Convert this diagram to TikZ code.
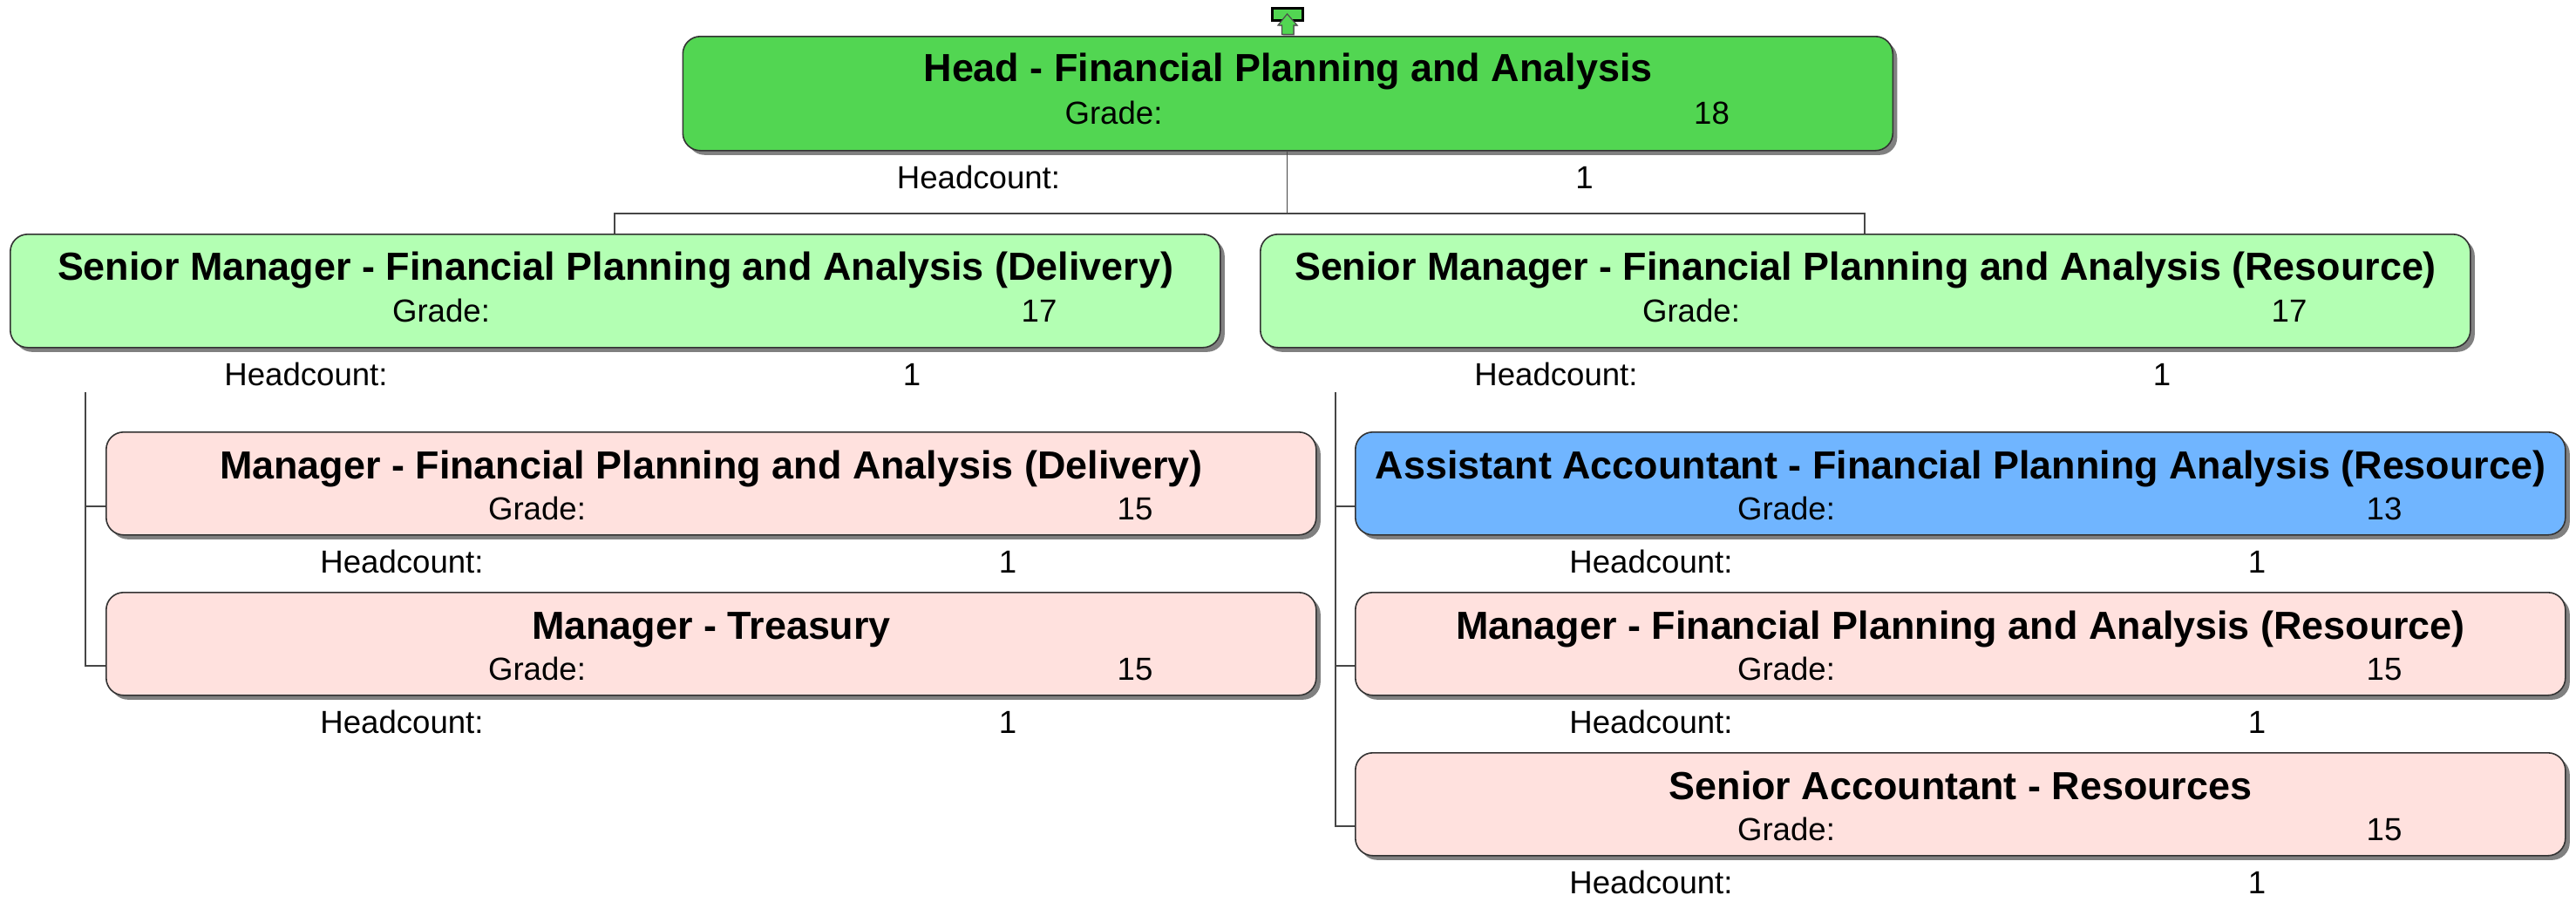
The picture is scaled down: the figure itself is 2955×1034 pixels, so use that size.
\documentclass[tikz,border=0pt]{standalone}
\usepackage{fontspec}
\setmainfont{Liberation Sans}
\usetikzlibrary{shadows}
\definecolor{headgreen}{RGB}{82,214,82}
\definecolor{seniorgreen}{RGB}{179,255,179}
\definecolor{managerpink}{RGB}{255,225,222}
\definecolor{assistblue}{RGB}{112,181,255}
\definecolor{linegray}{RGB}{70,70,70}
\tikzset{
  x=0.5pt,y=-0.5pt,
  orgbox/.style={draw=black!80,line width=0.8pt,rounded corners=10pt,anchor=north west,inner sep=0pt,
    general shadow={fill=black!50,shadow xshift=2.5pt,shadow yshift=-2.5pt}},
  titletext/.style={anchor=base,inner sep=0pt,font=\fontsize{22.45}{26}\selectfont\bfseries},
  bodytext/.style={anchor=base,inner sep=0pt,font=\fontsize{18.3}{22}\selectfont},
  connector/.style={draw=linegray,line width=0.8pt},
}
% name, left, top, height, fill, title, grade, headcount, title baseline offset
\newcommand{\orgunit}[9]{%
  \node[orgbox,fill=#5,minimum width=694pt,minimum height=#4*0.5pt] (#1) at (#2,#3) {};
  \node[titletext] (#1title) at ({#2+695},{#3+#9}) {#6};
  \node[bodytext] (#1gradelabel) at ({#2+495},{#3+101}) {Grade:};
  \node[bodytext] (#1gradevalue) at ({#2+1181},{#3+101}) {#7};
  \node[bodytext] (#1countlabel) at ({#2+340},{#3+#4+44.5}) {Headcount:};
  \node[bodytext] (#1countvalue) at ({#2+1035},{#3+#4+44.5}) {#8};
}
\begin{document}
\begin{tikzpicture}
\useasboundingbox (0,0) rectangle (2955,1034);
% units
\orgunit{head}{782.5}{41}{131}{headgreen}{Head - Financial Planning and Analysis}{18}{1}{52}
\orgunit{seniorD}{11}{268}{130}{seniorgreen}{Senior Manager - Financial Planning and Analysis (Delivery)}{17}{1}{53}
\orgunit{seniorR}{1445}{268}{130}{seniorgreen}{Senior Manager - Financial Planning and Analysis (Resource)}{17}{1}{53}
\orgunit{mgrD}{121}{495}{118}{managerpink}{Manager - Financial Planning and Analysis (Delivery)}{15}{1}{54}
\orgunit{treasury}{121}{679}{118}{managerpink}{Manager - Treasury}{15}{1}{54}
\orgunit{assist}{1554}{495}{118}{assistblue}{Assistant Accountant - Financial Planning Analysis (Resource)}{13}{1}{54}
\orgunit{mgrR}{1554}{679}{118}{managerpink}{Manager - Financial Planning and Analysis (Resource)}{15}{1}{54}
\orgunit{accountant}{1554}{863}{118}{managerpink}{Senior Accountant - Resources}{15}{1}{54}
% connectors
\coordinate (bus) at (1476.5,245);
\coordinate (busL) at (705,245);
\coordinate (busR) at (2139,245);
\coordinate (stemL) at (98,450);
\coordinate (stemR) at (1532,450);
\coordinate (jD) at (98,581);
\coordinate (jT) at (98,764);
\coordinate (jA) at (1532,581);
\coordinate (jM) at (1532,764);
\coordinate (jS) at (1532,948);
\draw[connector] (head.south -| bus) -- (bus);
\draw[connector] (seniorD.north -| busL) -- (busL) -- (busR) -- (seniorR.north -| busR);
\draw[connector] (stemL) -- (jT) -- (treasury.west |- jT);
\draw[connector] (jD) -- (mgrD.west |- jD);
\draw[connector] (stemR) -- (jS) -- (accountant.west |- jS);
\draw[connector] (jA) -- (assist.west |- jA);
\draw[connector] (jM) -- (mgrR.west |- jM);
% collapse icon
\node[draw=black,line width=1.5pt,fill=headgreen,minimum width=17.5pt,minimum height=7pt,inner sep=0pt,anchor=north west] (iconbar) at (1458,8) {};
\coordinate (icontip) at (1476.5,16);
\draw[draw=black!70,line width=0.6pt,fill=headgreen,
  general shadow={fill=black!35,shadow xshift=0.5pt,shadow yshift=-0.5pt}]
  (icontip) -- (1488,29) -- (1484,29) -- (1484,39.5) -- (1470.5,39.5) -- (1470.5,29) -- (1466,29) -- cycle;
\end{tikzpicture}
\end{document}
